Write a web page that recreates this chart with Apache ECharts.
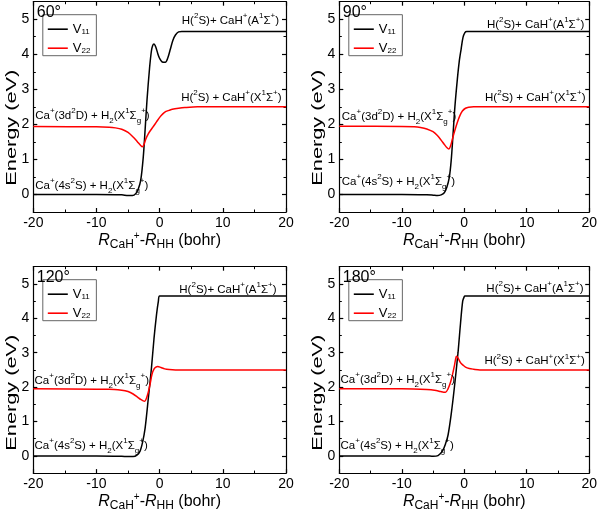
<!DOCTYPE html>
<html><head><meta charset="utf-8">
<script src="https://cdn.jsdelivr.net/npm/echarts@6/dist/echarts.min.js"></script>
<style>html,body{margin:0;padding:0;background:#fff}#c{width:600px;height:513px}</style>
</head><body><div id="c"></div>
<script>
// ---- data ----
const angles = ['60°', '90°', '120°', '180°'];
const xTickLabels = [-20, -10, 0, 10, 20];
const yTickLabels = [0, 1, 2, 3, 4, 5];

const p60_x11 = [-20,-10,-6,-5,-4.3,-3.8,-3.4,-3.0,-2.6,-2.3,-2.0,-1.6,-1.3,-1.1,-0.9,-0.6,-0.3,0,0.4,0.9,1.3,1.7,2.1,2.5,3.0,3.5,20];
const p60_v11 = [0,0,-0.01,-0.03,-0.03,0.02,0.15,0.4,1.05,1.85,2.7,3.6,4.1,4.25,4.29,4.2,4.02,3.88,3.78,3.77,3.9,4.15,4.4,4.55,4.64,4.65,4.65];
const p60_x22 = [-20,-10,-8,-7,-6,-5,-4.2,-3.5,-3.0,-2.75,-2.5,-2.2,-1.8,-1.4,-1.0,-0.5,0,0.5,1,1.5,2,3,4,6,20];
const p60_v22 = [1.94,1.93,1.92,1.9,1.86,1.77,1.64,1.5,1.4,1.36,1.42,1.58,1.73,1.84,1.94,2.07,2.2,2.3,2.37,2.4,2.43,2.46,2.48,2.5,2.5];

const p90_x11 = [-20,-10,-6,-5,-4.3,-3.7,-3.2,-2.8,-2.4,-2.1,-1.8,-1.5,-1.1,-0.8,-0.5,-0.2,0.1,0.4,20];
const p90_v11 = [0,0,-0.01,-0.02,-0.03,-0.01,0.05,0.2,0.48,0.95,1.7,2.5,3.3,3.8,4.15,4.48,4.62,4.65,4.65];
const p90_x22 = [-20,-10,-8,-7,-6,-5,-4.3,-3.7,-3.2,-2.8,-2.45,-2.2,-1.9,-1.5,-1.1,-0.7,-0.3,0.2,0.7,1.5,20];
const p90_v22 = [1.95,1.94,1.93,1.91,1.87,1.79,1.68,1.55,1.43,1.34,1.3,1.38,1.58,1.83,2.06,2.25,2.38,2.46,2.49,2.5,2.5];

const p120_x11 = [-20,-10,-6,-5,-4.2,-3.6,-3.1,-2.7,-2.3,-1.8,-1.3,-0.9,-0.5,-0.2,0,20];
const p120_v11 = [0,0,-0.01,-0.02,-0.02,0.02,0.14,0.4,0.81,1.66,2.55,3.4,4.1,4.5,4.65,4.65];
const p120_x22 = [-20,-10,-8,-6,-5,-4.2,-3.5,-3.0,-2.6,-2.35,-2.1,-1.8,-1.5,-1.2,-0.9,-0.6,-0.3,0.2,0.8,1.5,2.5,20];
const p120_v22 = [1.95,1.94,1.94,1.91,1.87,1.8,1.71,1.64,1.6,1.59,1.67,1.85,2.1,2.38,2.52,2.58,2.6,2.57,2.53,2.51,2.5,2.5];

const p180_x11 = [-20,-10,-6,-5,-4.2,-3.5,-3.0,-2.6,-2.1,-1.6,-1.0,-0.6,-0.25,0,0.1,20];
const p180_v11 = [0,0,0,-0.01,0.01,0.14,0.35,0.6,1.2,1.96,3.0,3.85,4.5,4.63,4.65,4.65];
const p180_x22 = [-20,-10,-6,-4.5,-3.8,-3.3,-3.0,-2.6,-2.2,-1.9,-1.6,-1.4,-1.25,-1.0,-0.6,-0.2,0.2,0.8,1.5,2.5,20];
const p180_v22 = [1.95,1.95,1.93,1.9,1.87,1.85,1.85,1.95,2.14,2.35,2.6,2.8,2.9,2.85,2.71,2.64,2.58,2.54,2.52,2.5,2.5];

// annotation anchor points (data coords) per panel: [A-state, X-state, 3d, 4s]
const annA = [[18.9,4.95],[19.2,4.83],[18.5,4.84],[19.1,4.85]];
const annX = [[19.3,2.75],[19.4,2.75],[20.2,2.75],[19.3,2.75]];
const annD = [[-19.7,2.25],[-19.6,2.22],[-19.8,2.18],[-19.8,2.2]];
const annS = [[-19.7,0.25],[-19.6,0.36],[-19.8,0.28],[-19.8,0.3]];

// ---- layout ----
const FF = '"Liberation Sans", Arial, sans-serif';
const grids = [
  {left:33.3, top:1.7, width:252.7, height:210.3},
  {left:339.3, top:1.7, width:252.4, height:210.3},
  {left:33.3, top:266.7, width:252.7, height:210.6},
  {left:339.3, top:266.7, width:252.4, height:210.6}
];
const panelData = [
  [p60_x11,p60_v11,p60_x22,p60_v22],
  [p90_x11,p90_v11,p90_x22,p90_v22],
  [p120_x11,p120_v11,p120_x22,p120_v22],
  [p180_x11,p180_v11,p180_x22,p180_v22]
];
const zip = (xs, ys) => xs.map((x,k)=>[x, ys[k]]);

const annRich = {
  n:{fontSize:11.5, fontFamily:FF, color:'#000', lineHeight:18, verticalAlign:'middle'},
  sup:{fontSize:8, fontFamily:FF, color:'#000', lineHeight:10, verticalAlign:'top'},
  sub:{fontSize:8, fontFamily:FF, color:'#000', lineHeight:10, verticalAlign:'bottom'}
};
const txtA = '{n|H(}{sup|2}{n|S)+ CaH}{sup|+}{n|(A}{sup|1}{n|Σ}{sup|+}{n|)}';
const txtX = '{n|H(}{sup|2}{n|S) + CaH}{sup|+}{n|(X}{sup|1}{n|Σ}{sup|+}{n|)}';
const txtD = '{n|Ca}{sup|+}{n|(3d}{sup|2}{n|D) + H}{sub|2}{n|(X}{sup|1}{n|Σ}{sub|g}{sup|+}{n|)}';
const txtS = '{n|Ca}{sup|+}{n|(4s}{sup|2}{n|S) + H}{sub|2}{n|(X}{sup|1}{n|Σ}{sub|g}{sup|+}{n|)}';

const mp = (coord, text, pos) => ({
  coord: coord, value: 0,
  label:{show:true, position:pos, distance:0, formatter:text, rich:annRich}
});

const xAxes = [], yAxes = [], series = [], legends = [], titles = [], graphics = [];
const axLine = {show:true, onZero:false, lineStyle:{color:'#000', width:1.2}};
const noLine = {show:false, onZero:false};
const majX = {show:true, inside:true, length:4, lineStyle:{color:'#000', width:1.2}};
const minX = {show:true, splitNumber:2, length:2.5, lineStyle:{color:'#000', width:1}};
const yMinorVals = [0.5,1.5,2.5,3.5,4.5];

grids.forEach((g, i) => {
  xAxes.push({gridIndex:i, type:'value', position:'bottom', min:-20, max:20, interval:10,
    axisLine:axLine, axisTick:majX, minorTick:minX, splitLine:{show:false}, minorSplitLine:{show:false},
    axisLabel:{show:true, margin:4, fontSize:14, fontFamily:FF, color:'#000', customValues:xTickLabels},
    name:'{it|R}{sb|CaH}{sp|+}{n|-}{it|R}{sb|HH}{n| (bohr)}', nameLocation:'middle', nameGap:15,
    nameTextStyle:{rich:{
      it:{fontSize:16, fontStyle:'italic', fontFamily:FF, color:'#000', lineHeight:20, verticalAlign:'middle'},
      n:{fontSize:16, fontFamily:FF, color:'#000', lineHeight:20, verticalAlign:'middle'},
      sb:{fontSize:12, fontFamily:FF, color:'#000', lineHeight:12, verticalAlign:'bottom'},
      sp:{fontSize:10, fontFamily:FF, color:'#000', lineHeight:10, verticalAlign:'top'}
    }}
  });
  xAxes.push({gridIndex:i, type:'value', position:'top', min:-20, max:20, interval:10,
    axisLine:axLine, axisTick:majX, minorTick:minX, splitLine:{show:false}, minorSplitLine:{show:false},
    axisLabel:{show:false}});
  yAxes.push({gridIndex:i, type:'value', position:'left', min:-0.5, max:5.5, interval:0.5,
    axisLine:axLine, splitLine:{show:false},
    axisTick:{show:true, inside:true, length:4, customValues:yTickLabels, lineStyle:{color:'#000', width:1.2}},
    axisLabel:{show:true, margin:4, fontSize:14, fontFamily:FF, color:'#000', customValues:yTickLabels}});
  yAxes.push({gridIndex:i, type:'value', position:'left', min:-0.5, max:5.5, interval:0.5,
    axisLine:noLine, splitLine:{show:false}, axisLabel:{show:false},
    axisTick:{show:true, inside:true, length:2.5, customValues:yMinorVals, lineStyle:{color:'#000', width:1}}});
  yAxes.push({gridIndex:i, type:'value', position:'right', min:-0.5, max:5.5, interval:0.5,
    axisLine:axLine, splitLine:{show:false}, axisLabel:{show:false},
    axisTick:{show:true, inside:true, length:4, customValues:yTickLabels, lineStyle:{color:'#000', width:1.2}}});
  yAxes.push({gridIndex:i, type:'value', position:'right', min:-0.5, max:5.5, interval:0.5,
    axisLine:noLine, splitLine:{show:false}, axisLabel:{show:false},
    axisTick:{show:true, inside:true, length:2.5, customValues:yMinorVals, lineStyle:{color:'#000', width:1}}});

  const d = panelData[i];
  series.push({type:'line', name:'V11', xAxisIndex:2*i, yAxisIndex:4*i, data:zip(d[0], d[1]),
    symbol:'none', smooth:0.3, lineStyle:{color:'#000', width:1.5}, itemStyle:{color:'#000'},
    markPoint:{symbol:'circle', symbolSize:0, silent:true, data:[
      mp(annA[i], txtA, 'left'), mp(annX[i], txtX, 'left'), mp(annD[i], txtD, 'right'), mp(annS[i], txtS, 'right')
    ]}});
  series.push({type:'line', name:'V22', xAxisIndex:2*i, yAxisIndex:4*i, data:zip(d[2], d[3]),
    symbol:'none', smooth:0.3, lineStyle:{color:'#ff0000', width:1.5}, itemStyle:{color:'#ff0000'}});

  legends.push({orient:'vertical', left:g.left + 9.5, top:g.top + 13,
    data:['V11','V22'], icon:'rect', itemWidth:20, itemHeight:1.6, itemGap:6, padding:[8,6,1,5],
    borderColor:'#666', borderWidth:1, selectedMode:false,
    formatter: n => '{v|V}{s|' + n.slice(1) + '}',
    textStyle:{rich:{
      v:{fontSize:13, fontFamily:FF, color:'#000', lineHeight:13, verticalAlign:'middle'},
      s:{fontSize:8, fontFamily:FF, color:'#000', lineHeight:8, verticalAlign:'bottom'}
    }}});

  titles.push({text:angles[i], left:g.left + 3.5, top:g.top + 2.5, padding:0,
    textStyle:{fontSize:16, fontWeight:'normal', fontFamily:FF, color:'#000'}});

  graphics.push({type:'text', x:g.left - 21.3, y:g.top + 126, rotation:Math.PI/2, scaleX:1.45,
    style:{text:'Energy (eV)', font:'15px ' + FF, fill:'#000', align:'center', verticalAlign:'middle'}});
});

const chart = echarts.init(document.getElementById('c'), null, {renderer:'canvas'});
chart.setOption({
  animation:false, backgroundColor:'#fff',
  title:titles, grid:grids, xAxis:xAxes, yAxis:yAxes, legend:legends, series:series, graphic:graphics
});
</script></body></html>
